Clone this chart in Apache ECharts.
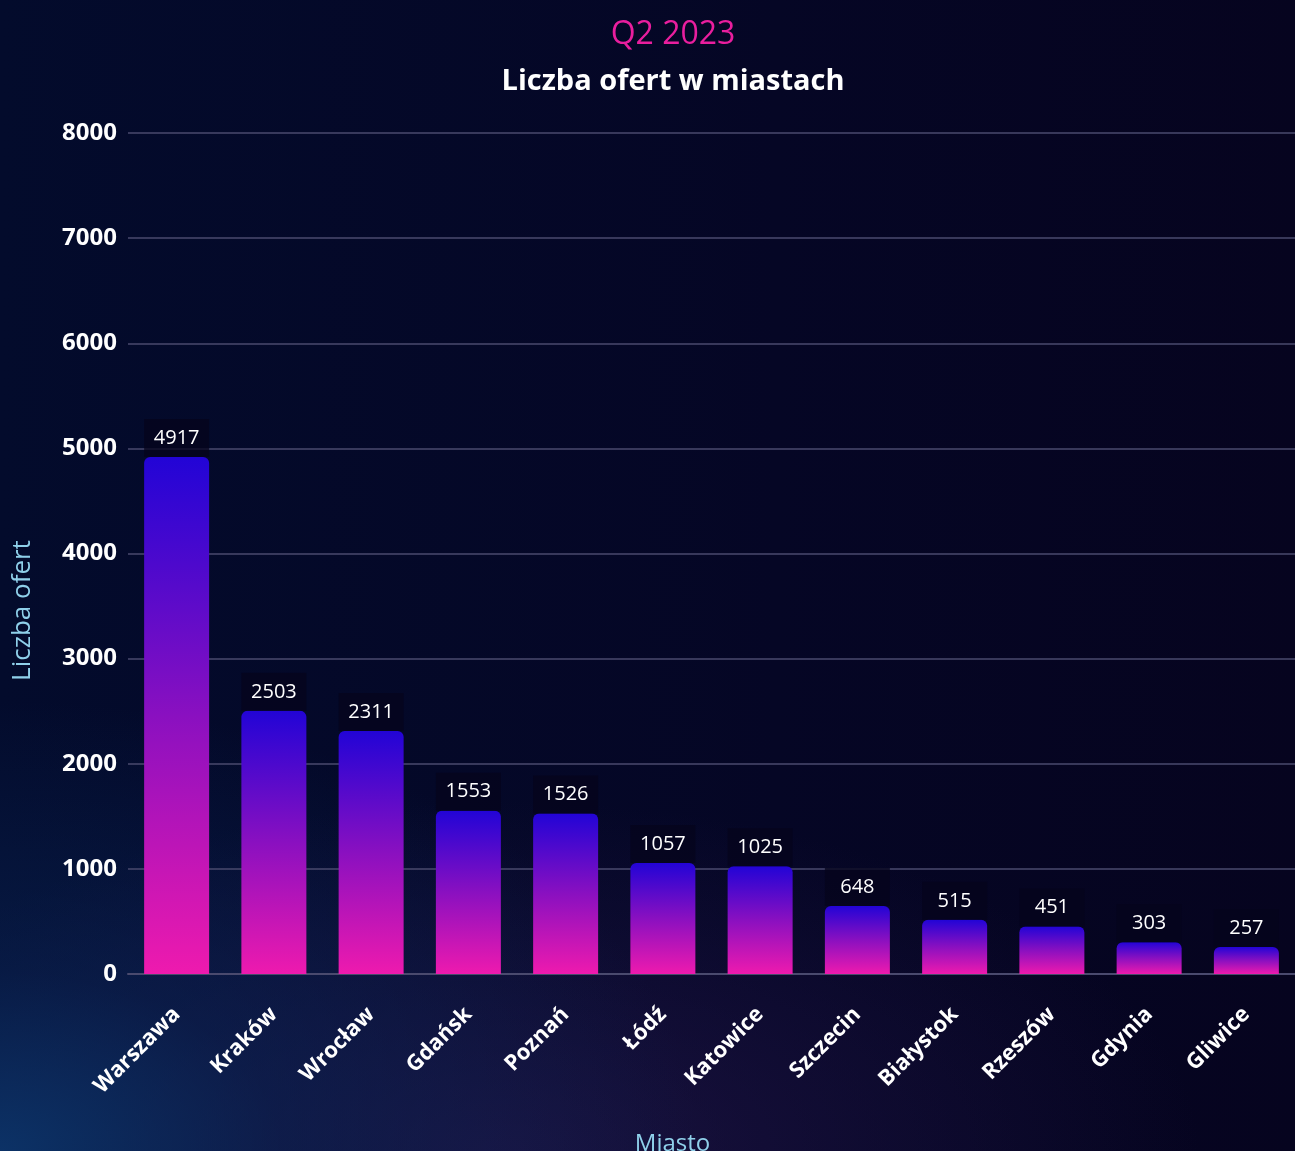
<!DOCTYPE html>
<html><head><meta charset="utf-8">
<script src="https://cdn.jsdelivr.net/npm/echarts@6/dist/echarts.min.js"></script>
<style>
html,body{margin:0;padding:0;width:1295px;height:1151px;overflow:hidden;}
body{background:
 radial-gradient(ellipse 700px 450px at 0px 1151px, rgba(12,52,105,0.95) 0%, rgba(10,40,90,0.5) 40%, rgba(6,20,60,0) 100%),
 radial-gradient(ellipse 700px 350px at 500px 1151px, rgba(40,25,80,0.6) 0%, rgba(20,15,60,0) 100%),
 linear-gradient(to right, #030b2c 0%, #050625 60%, #06041f 100%);}
#c{width:1295px;height:1151px;}
</style></head>
<body><div id="c"></div>
<script>
const categories = ['Warszawa','Kraków','Wrocław','Gdańsk','Poznań','Łódź','Katowice','Szczecin','Białystok','Rzeszów','Gdynia','Gliwice'];
const offers = [4917,2503,2311,1553,1526,1057,1025,648,515,451,303,257];
const titleMain = 'Q2 2023';
const titleSub = 'Liczba ofert w miastach';
const yName = 'Liczba ofert';
const xName = 'Miasto';

const chart = echarts.init(document.getElementById('c'), null, {renderer:'canvas'});
chart.setOption({
  backgroundColor: 'transparent',
  animation: false,
  title: [
    {text: titleMain, left: 668, top: 14, textAlign: 'center',
     textStyle: {color: '#e91e9e', fontSize: 32, fontWeight: 'normal', fontFamily: 'Open Sans'}},
    {text: titleSub, left: 668, top: 62, textAlign: 'center',
     textStyle: {color: '#ffffff', fontSize: 29, fontWeight: 'bold', fontFamily: 'Open Sans'}}
  ],
  grid: {left: 128, right: 0, top: 133, bottom: 177, containLabel: false, outerBoundsMode: 'none'},
  xAxis: {
    type: 'category', data: categories,
    name: xName, nameLocation: 'middle', nameGap: 158,
    nameTextStyle: {color: '#8fd0ea', fontSize: 24, fontFamily: 'Open Sans', padding: [0, 78, 0, 0]},
    axisLine: {show: true, lineStyle: {color: '#4a4a6e', width: 2}},
    axisTick: {show: false},
    axisLabel: {rotate: 45, color: '#ffffff', fontSize: 22, fontWeight: 'bold', fontFamily: 'Open Sans', margin: 37, interval: 0}
  },
  yAxis: {
    type: 'value', min: 0, max: 8000, interval: 1000,
    name: yName, nameLocation: 'middle', nameGap: 92,
    nameTextStyle: {color: '#8fd0ea', fontSize: 26, fontFamily: 'Open Sans', padding: [0, 114, 0, 0]},
    axisLine: {show: false}, axisTick: {show: false},
    axisLabel: {color: '#ffffff', fontSize: 24, fontWeight: 'bold', fontFamily: 'Open Sans', margin: 11,
      formatter: v => String(v)},
    splitLine: {lineStyle: {color: '#4a4a6e', width: 1.5}}
  },
  series: [{
    type: 'bar', data: offers, barWidth: 65,
    itemStyle: {
      borderRadius: [6,6,0,0],
      color: new echarts.graphic.LinearGradient(0,0,0,1,[
        {offset:0, color:'#2204d6'},
        {offset:0.5, color:'#8a10c0'},
        {offset:1, color:'#ee1aae'}
      ])
    },
    label: {
      show: true, position: 'top', distance: 0,
      color: '#ffffff', fontSize: 20, fontFamily: 'Open Sans',
      backgroundColor: 'rgba(6,4,28,0.75)', width: 65, align: 'center',
      padding: [9,0,9,0]
    }
  }]
});
</script></body></html>
